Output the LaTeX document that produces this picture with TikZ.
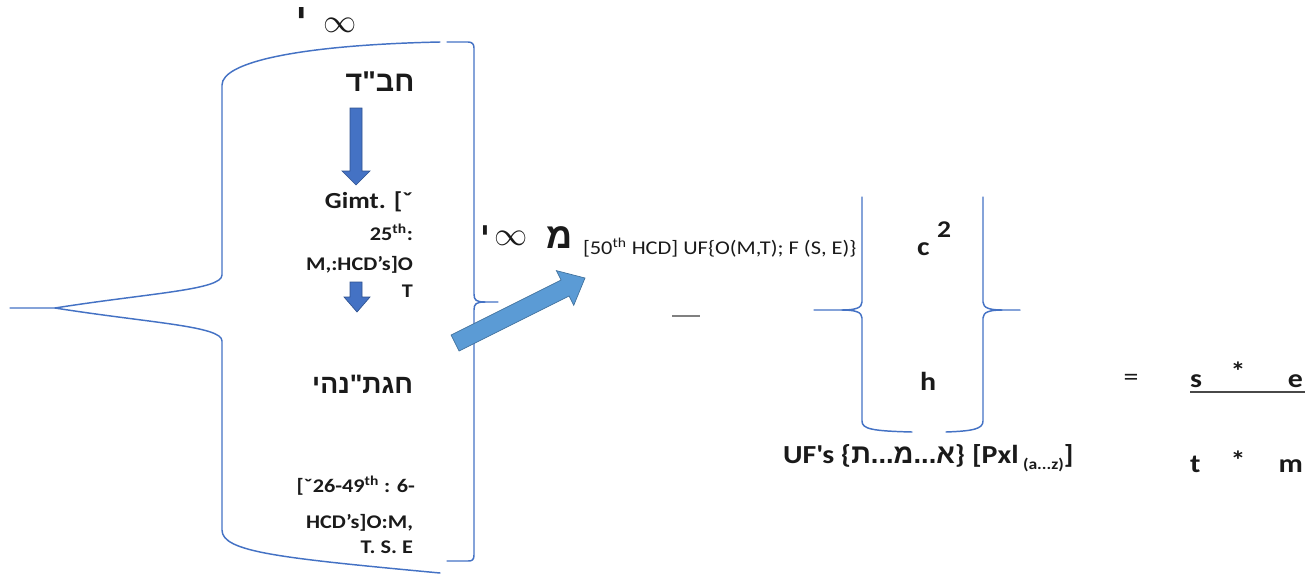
\documentclass[tikz,border=0pt]{standalone}
\usepackage{fontspec}
\setmainfont{Carlito}[FakeStretch=1.15]
\newfontfamily\heb[Script=Hebrew]{Liberation Sans}
\TeXXeTstate=1
\definecolor{brc}{HTML}{4472C4}
\definecolor{arrA}{HTML}{4472C4}
\definecolor{arrAd}{HTML}{2F528F}
\definecolor{arrB}{HTML}{5B9BD5}
\definecolor{arrBd}{HTML}{41719C}
\definecolor{txt}{HTML}{1A1A1A}
\begin{document}
\begin{tikzpicture}[x=0.75pt,y=-0.75pt,
  brace/.style={draw=brc,line width=1.1pt,line cap=round,line join=round},
  tx/.style={inner sep=0pt,outer sep=0pt,text=txt},
  lbl/.style={tx,font=\fontsize{14.5}{16}\selectfont\bfseries},
  big/.style={tx,font=\fontsize{19.5}{22}\selectfont\bfseries},
  hb/.style={tx,font=\heb\bfseries},
  dnarrow/.style={fill=arrA,draw=arrAd,line width=0.5pt},
  diarrow/.style={fill=arrB,draw=arrBd,line width=0.5pt}]
\useasboundingbox (0,0) rectangle (1306,575);

% big double brace
\draw[brace] (440,42) .. controls (300,45) and (222,62) .. (222,85)
  -- (222,275) .. controls (222,290) and (150,293) .. (55,308) -- (10,308);
\draw[brace] (55,308) .. controls (150,323) and (222,326) .. (222,341)
  -- (222,530) .. controls (222,552) and (280,558) .. (440,573);
\draw[brace] (447,42) -- (468,42) .. controls (472,42) and (474,44) .. (474,48)
  -- (474,294) .. controls (474,300) and (476,302) .. (485,302) -- (498,302);
\draw[brace] (485,302) .. controls (476,302) and (474,304) .. (474,310)
  -- (474,555) .. controls (474,560) and (472,561) .. (468,561) -- (447,561);

% small double brace
\draw[brace] (862,197) -- (862,302) .. controls (862,308) and (855,310) .. (842,310) -- (814,310);
\draw[brace] (842,310) .. controls (855,310) and (862,312) .. (862,318)
  -- (862,421) .. controls (862,429) and (872,431) .. (912,432);
\draw[brace] (983,197) -- (983,302) .. controls (983,308) and (990,310) .. (1002,310) -- (1020,310);
\draw[brace] (1002,310) .. controls (990,310) and (983,312) .. (983,318)
  -- (983,421) .. controls (983,429) and (973,431) .. (946,432);

% arrows
\draw[dnarrow] (350,108) -- (362,108) -- (362,171) -- (370,171) -- (356,185) -- (342,171) -- (350,171) -- cycle;
\draw[dnarrow] (350,282) -- (362,282) -- (362,297) -- (370,297) -- (357,312) -- (344,297) -- (350,297) -- cycle;
\draw[diarrow] (459,351) -- (451,335) -- (561,280) -- (556.3,270.6) -- (585,278) -- (573.7,305.4) -- (569,296) -- cycle;

% top labels
\node[hb,font=\heb\bfseries\fontsize{26}{28}\selectfont] (yodA) at (302,18) {\beginR י\endR};
\node[tx,font=\fontsize{31}{32}\selectfont] (infA) at (340,25) {$\infty$};
\node[hb,font=\heb\bfseries\fontsize{21.5}{24}\selectfont,anchor=base] (chabad) at (380,91) {\beginR חב"ד\endR};

% left column
\node[tx,font=\fontsize{17.25}{20}\selectfont\bfseries,anchor=base east] (gimt) at (413,208) {Gimt. [ˇ};
\node[lbl,anchor=base east] (l25) at (413,240) {25\textsuperscript{th}:};
\node[lbl,anchor=base east] (lhcd) at (413,270) {M,:HCD’s]O};
\node[lbl,anchor=base east] (lT) at (413,297) {T};
\node[hb,font=\heb\bfseries\fontsize{20}{24}\selectfont,anchor=base east] (chagat) at (413,393) {\beginR חגת"נהי\endR};
\node[lbl,anchor=base east] (l26) at (415,492) {[ˇ26-49\textsuperscript{th} : 6-};
\node[lbl,anchor=base east] (lhcd2) at (413,528) {HCD’s]O:M,};
\node[lbl,anchor=base east] (ltse) at (413,553) {T. S. E};

% middle labels
\node[hb,font=\heb\bfseries\fontsize{22}{24}\selectfont] (yodB) at (485,235) {\beginR י\endR};
\node[tx,font=\fontsize{31}{32}\selectfont] (infB) at (511,238) {$\infty$};
\node[hb,font=\heb\bfseries\fontsize{27}{30}\selectfont] (mem) at (560,238) {\beginR מ\endR};
\node[tx,font=\fontsize{14.6}{18}\selectfont,anchor=base west] (uf) at (583,254) {[50\textsuperscript{th} HCD] UF\{O(M,T); F (S, E)\}};
\coordinate (dashL) at (672,316);
\coordinate (dashR) at (700,316);
\draw[gray,line width=1.5pt] (dashL) -- (dashR);

% small brace contents
\node[big,anchor=base west] (c) at (917,255) {c};
\node[tx,font=\fontsize{18}{20}\selectfont\bfseries,anchor=base west] (two) at (937,237) {2};
\node[big,anchor=base west] (h) at (920,390) {h};

% equation
\node[tx,font=\fontsize{19.5}{22}\selectfont] (eq) at (1131,380) {=};
\node[big,anchor=base west] (s) at (1190,387) {s};
\node[big] (st1) at (1238,371) {*};
\node[big,anchor=base east] (e) at (1303,387) {e};
\coordinate (ulL) at (1190,392);
\coordinate (ulR) at (1305,392);
\draw[txt!80,line width=1.6pt] (ulL) -- (ulR);
\node[big,anchor=base west] (t) at (1190,472) {t};
\node[big] (st2) at (1238,460) {*};
\node[big,anchor=base east] (m) at (1303,472) {m};

\node[tx,font=\fontsize{19.5}{22}\selectfont\bfseries,anchor=base west] (ufs) at (783,463)
  {UF\textquotesingle s \{{\heb\bfseries\fontsize{20.5}{22}\selectfont\beginR א...מ...ת\endR}\} [Pxl\,\raisebox{-5pt}{\fontsize{11.5}{12}\selectfont(a...z)}]};
\end{tikzpicture}
\end{document}
